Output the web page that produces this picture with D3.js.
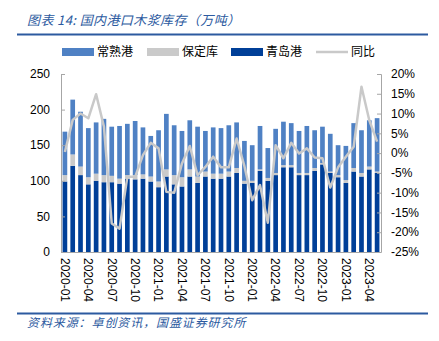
<!DOCTYPE html>
<html><head><meta charset="utf-8">
<script src="https://cdn.jsdelivr.net/npm/d3@7"></script>
<style>body{margin:0;background:#fff}svg{display:block}</style>
</head><body>
<svg id="c" width="439" height="341"></svg>
<script>
const months = [];
for (let y = 2020; y <= 2023; y++) for (let m = 1; m <= 12; m++) { if (y === 2023 && m > 5) break; months.push(y + "-" + String(m).padStart(2, "0")); }
const qingdao = [99,121,108,95,100,98,98,96,103,102,103,99,91,106,95,92,106,97,106,103,103,106,111,96,97,114,100,108,119,119,108,108,114,123,111,105,97,113,106,116,111];
const baoding = [9,16,12,10,10,10,9,7,5,6,6,7,8,10,13,13,10,9,7,7,7,7,7,4,3,2,4,3,3,3,3,3,4,2,2,3,4,5,5,4,2];
const changshu = [61,77,77,69,72,79,69,74,72,76,66,57,72,78,70,65,69,70,57,65,64,65,64,56,50,61,42,62,61,59,59,66,53,51,53,42,48,63,60,65,75];
const yoy = [0.3,8.4,10,8.8,14.9,6.7,-17.8,-19.1,-6,-6,-0.5,2.6,1.2,-9.8,-10,-2.6,1.8,-5.6,-3.5,-0.9,-3.6,-3.6,3.7,-3.3,-11.9,-8.1,-17.6,2,-1.3,2.6,-0.1,1.2,-1.1,-1.3,-8.7,-3.6,-0.9,1.6,16.8,8.3,2.9];
const leftTicks = [0,50,100,150,200,250];
const rightTicks = [20,15,10,5,0,-5,-10,-15,-20,-25];
const seriesNames = ["常熟港","保定库","青岛港","同比"];
const colors = {"青岛港":"#003f98","保定库":"#cacaca","常熟港":"#4f81c4","同比":"#c9c9c9"};

const svg = d3.select("#c");
const L = 61, R = 381, T = 74, B = 252;
const font = "'Liberation Sans', Arial, sans-serif";
const cjk = "'Noto Sans CJK SC', sans-serif";

// title
svg.append("text").attr("x", 27).attr("y", 25).attr("font-family", cjk).attr("font-style", "italic")
  .attr("font-size", 13).attr("letter-spacing", 0.4).attr("fill", "#2c5aa0").text("图表 14:  国内港口木浆库存（万吨）");
svg.append("line").attr("x1", 17).attr("x2", 428).attr("y1", 34.5).attr("y2", 34.5).attr("stroke", "#2c5aa0").attr("stroke-width", 2);

const x = d3.scaleBand().domain(months).range([L, R]).paddingInner(0.4).paddingOuter(0.2);
const yL = d3.scaleLinear().domain([0, 250]).range([B, T]);
const yR = d3.scaleLinear().domain([-25, 20]).range([B, T]);

const rows = months.map((m, i) => ({m, "青岛港": qingdao[i], "保定库": baoding[i], "常熟港": changshu[i]}));
const stack = d3.stack().keys(["青岛港","保定库","常熟港"])(rows);
svg.append("g").selectAll("g").data(stack).join("g").attr("fill", d => colors[d.key])
  .selectAll("rect").data(d => d).join("rect")
  .attr("x", d => x(d.data.m)).attr("width", x.bandwidth())
  .attr("y", d => yL(d[1])).attr("height", d => yL(d[0]) - yL(d[1]));

// line
svg.append("path").datum(yoy).attr("fill", "none").attr("stroke", colors["同比"]).attr("stroke-width", 2.5)
  .attr("stroke-linejoin", "round")
  .attr("d", d3.line().x((d, i) => x(months[i]) + x.bandwidth() / 2).y(d => yR(d)));

// axes
const axisColor = "#a6a6a6";
const gl = svg.append("g").attr("transform", `translate(${L},0)`)
  .call(d3.axisRight(yL).tickValues(leftTicks).tickSize(4).tickFormat(""));
gl.selectAll("line,path").attr("stroke", axisColor);
svg.append("g").selectAll("text").data(leftTicks).join("text")
  .attr("x", 50).attr("y", d => yL(d)).attr("dy", "0.35em").attr("text-anchor", "end")
  .attr("font-family", font).attr("font-size", 12).attr("fill", "#000").text(d => d);

const gr = svg.append("g").attr("transform", `translate(${R},0)`)
  .call(d3.axisLeft(yR).tickValues(rightTicks).tickSize(4).tickFormat(""));
gr.selectAll("line,path").attr("stroke", axisColor);
svg.append("g").selectAll("text").data(rightTicks).join("text")
  .attr("x", 391).attr("y", d => yR(d)).attr("dy", "0.35em").attr("text-anchor", "start")
  .attr("font-family", font).attr("font-size", 12).attr("fill", "#000").text(d => d + "%");

svg.append("line").attr("x1", L).attr("x2", R).attr("y1", B + 0.5).attr("y2", B + 0.5).attr("stroke", axisColor);

const labelMonths = months.filter((m, i) => i % 3 === 0);
svg.append("g").selectAll("text").data(labelMonths).join("text")
  .attr("transform", d => `translate(${x(d) + x.bandwidth() / 2},258) rotate(90)`)
  .attr("dy", "0.35em").attr("text-anchor", "start")
  .attr("font-family", font).attr("font-size", 12).attr("fill", "#000").text(d => d);

// legend
const lg = [
  {n: "常熟港", x: 62, t: "rect"}, {n: "保定库", x: 147, t: "rect"},
  {n: "青岛港", x: 231, t: "rect"}, {n: "同比", x: 316, t: "line"}];
lg.forEach(d => {
  if (d.t === "rect") svg.append("rect").attr("x", d.x).attr("y", 48).attr("width", 32).attr("height", 8).attr("fill", colors[d.n]);
  else svg.append("line").attr("x1", d.x).attr("x2", d.x + 32).attr("y1", 52).attr("y2", 52).attr("stroke", colors[d.n]).attr("stroke-width", 2.5);
  svg.append("text").attr("x", d.x + 35).attr("y", 52).attr("dy", "0.35em").attr("font-family", cjk)
    .attr("font-size", 12).attr("fill", "#000").text(d.n);
});

// footer
svg.append("line").attr("x1", 17).attr("x2", 428).attr("y1", 313.5).attr("y2", 313.5).attr("stroke", "#2c5aa0").attr("stroke-width", 2);
svg.append("text").attr("x", 27).attr("y", 327).attr("font-family", cjk).attr("font-style", "italic")
  .attr("font-size", 12).attr("letter-spacing", 0.9).attr("fill", "#2c5aa0").text("资料来源：卓创资讯，国盛证券研究所");
</script>
</body></html>
